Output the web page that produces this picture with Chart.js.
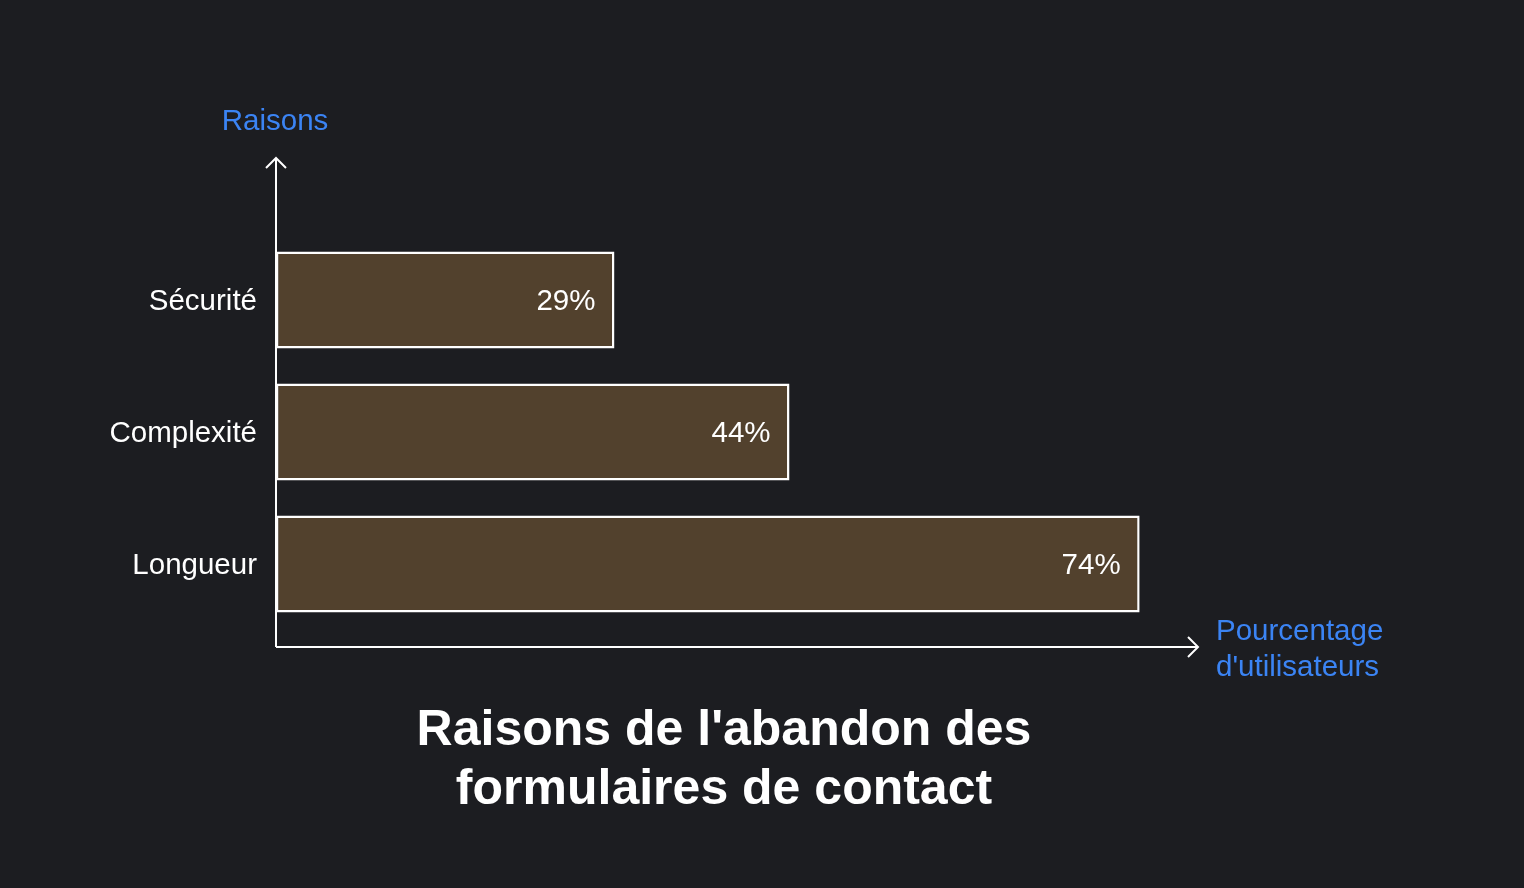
<!DOCTYPE html>
<html>
<head>
<meta charset="utf-8">
<script src="https://cdn.jsdelivr.net/npm/chart.js@4.4.1/dist/chart.umd.min.js"></script>
<style>
  html, body { margin: 0; padding: 0; background: #1c1d21; }
  #wrap { width: 1524px; height: 888px; }
</style>
</head>
<body>
<div id="wrap"><canvas id="chart" width="1524" height="888"></canvas></div>
<script>
const reasons = ['Sécurité', 'Complexité', 'Longueur'];
const userShare = [29, 44, 74];
const titleLines = ["Raisons de l'abandon des", 'formulaires de contact'];
const yAxisTitle = 'Raisons';
const xAxisTitle = ['Pourcentage', "d'utilisateurs"];

const FONT = '"Liberation Sans", Arial, Helvetica, sans-serif';
const BLUE = '#3b84f4';

// axes with open arrow heads, axis titles, value labels and bottom title
const decorations = {
  id: 'decorations',
  afterDatasetsDraw(chart) {
    const ctx = chart.ctx;
    const a = chart.chartArea;
    const x0 = a.left;
    const yBase = a.bottom + 17;
    const yTop = a.top - 76;
    const xEnd = a.right;

    ctx.save();
    ctx.strokeStyle = '#ffffff';
    ctx.lineWidth = 2;
    ctx.beginPath();
    ctx.moveTo(x0, yBase);
    ctx.lineTo(x0, yTop);
    ctx.moveTo(x0 - 10, yTop + 10);
    ctx.lineTo(x0, yTop);
    ctx.lineTo(x0 + 10, yTop + 10);
    ctx.moveTo(x0, yBase);
    ctx.lineTo(xEnd, yBase);
    ctx.moveTo(xEnd - 10, yBase - 10);
    ctx.lineTo(xEnd, yBase);
    ctx.lineTo(xEnd - 10, yBase + 10);
    ctx.stroke();

    // value labels inside bars
    ctx.fillStyle = '#ffffff';
    ctx.font = '29.5px ' + FONT;
    ctx.textAlign = 'right';
    ctx.textBaseline = 'middle';
    chart.getDatasetMeta(0).data.forEach((bar, i) => {
      ctx.fillText(userShare[i] + '%', bar.x - 19, bar.y + 2);
    });

    // axis titles
    ctx.fillStyle = BLUE;
    ctx.textAlign = 'center';
    ctx.fillText(yAxisTitle, x0 - 1, yTop - 36);
    ctx.textAlign = 'left';
    ctx.fillText(xAxisTitle[0], xEnd + 18, yBase - 15);
    ctx.fillText(xAxisTitle[1], xEnd + 18, yBase + 21);

    // chart title
    ctx.fillStyle = '#ffffff';
    ctx.font = 'bold 50px ' + FONT;
    ctx.textAlign = 'center';
    ctx.fillText(titleLines[0], 724, 731);
    ctx.fillText(titleLines[1], 724, 790);
    ctx.restore();
  }
};

new Chart(document.getElementById('chart'), {
  type: 'bar',
  data: {
    labels: reasons,
    datasets: [{
      data: userShare,
      backgroundColor: '#52412d',
      borderColor: '#ffffff',
      borderWidth: 2.5,
      borderSkipped: false,
      categoryPercentage: 1,
      barPercentage: 0.735
    }]
  },
  options: {
    indexAxis: 'y',
    responsive: false,
    animation: false,
    devicePixelRatio: 1,
    layout: { padding: { left: 0, top: 234, right: 326, bottom: 258 } },
    plugins: {
      legend: { display: false },
      tooltip: { enabled: false }
    },
    scales: {
      x: { display: false, min: 0, max: 79 },
      y: {
        afterFit(scale) { scale.width = 276; },
        grid: { display: false, drawTicks: false },
        border: { display: false },
        ticks: {
          color: '#ffffff',
          padding: 19,
          labelOffset: 2,
          font: { family: FONT, size: 29.5 }
        }
      }
    }
  },
  plugins: [decorations]
});
</script>
</body>
</html>
